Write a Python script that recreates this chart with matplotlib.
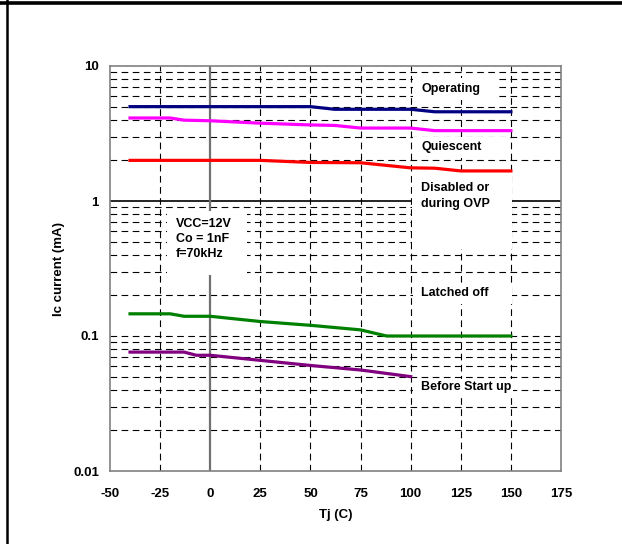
import matplotlib
matplotlib.use("Agg")
import matplotlib.pyplot as plt
from matplotlib.patches import Rectangle
from matplotlib.lines import Line2D
from matplotlib.ticker import FixedLocator, NullFormatter, LogLocator

plt.rcParams['font.family'] = ['Liberation Sans', 'DejaVu Sans']

# ---- data ----
op_t = [-40, 50, 62, 100, 112, 150]
op_i = [5.0, 5.0, 4.78, 4.78, 4.58, 4.58]

qu_t = [-40, -20, -13, 0, 25, 50, 62, 75, 100, 112, 150]
qu_i = [4.12, 4.12, 3.97, 3.93, 3.77, 3.66, 3.63, 3.47, 3.47, 3.32, 3.32]

di_t = [-40, 25, 50, 75, 100, 112, 125, 150]
di_i = [2.0, 2.0, 1.93, 1.92, 1.76, 1.75, 1.67, 1.67]

la_t = [-40, -20, -13, 0, 25, 50, 75, 88, 150]
la_i = [0.146, 0.146, 0.14, 0.14, 0.128, 0.12, 0.111, 0.1, 0.1]

bs_t = [-40, -13, -7, 0, 25, 50, 75, 100]
bs_i = [0.076, 0.076, 0.072, 0.072, 0.066, 0.0605, 0.056, 0.05]

x_ticks = [-50, -25, 0, 25, 50, 75, 100, 125, 150, 175]
y_ticks = [0.01, 0.1, 1, 10]
y_tick_labels = ['0.01', '0.1', '1', '10']

W, H = 622, 544
fig = plt.figure(figsize=(W / 100, H / 100), dpi=100)

# outer frame lines (top and left)
fig.add_artist(Line2D([0, 1], [1 - 2.5 / H, 1 - 2.5 / H], color='black', lw=2.6,
                      transform=fig.transFigure))
fig.add_artist(Line2D([7.5 / W, 7.5 / W], [0, 1], color='black', lw=1.8,
                      transform=fig.transFigure))

L, R, T, B = 110, 561, 66, 471
ax = fig.add_axes([L / W, 1 - B / H, (R - L) / W, (B - T) / H])
ax.set_yscale('log')
ax.set_xlim(-50, 175)
ax.set_ylim(0.01, 10)

for s in ax.spines.values():
    s.set_color('#808080')
    s.set_linewidth(1.2)

dash = (0, (6, 4))
# horizontal grid: all 2..9 in each decade, plus 0.1
for dec in [0.01, 0.1, 1]:
    for m in range(1, 10):
        v = dec * m
        if abs(v - 0.01) < 1e-12 or abs(v - 1) < 1e-9:
            continue
        ax.axhline(v, color='black', lw=0.8, ls=dash, zorder=1)
ax.axhline(1, color='black', lw=1.2, zorder=1.5)
# vertical grid
for xv in x_ticks[1:-1]:
    if xv == 0:
        continue
    ax.axvline(xv, color='black', lw=0.8, ls=dash, zorder=1)
ax.axvline(0, color='#707070', lw=1.6, zorder=1.5)

# white label boxes (in pixel coordinates of the figure)
def wbox(x0, x1, y0, y1):
    ax.add_patch(Rectangle(((x0 - L) / (R - L), (B - y1) / (B - T)),
                           (x1 - x0) / (R - L), (y1 - y0) / (B - T),
                           transform=ax.transAxes, facecolor='white',
                           edgecolor='none', zorder=2))

wbox(413, 495, 78, 100)
wbox(413, 510, 137, 158)
wbox(412, 512, 175, 249)
wbox(413, 512, 283, 304)
wbox(413, 513, 379, 398)
wbox(167, 247, 211, 275)

lw = 2.3
ax.plot(op_t, op_i, color='#000080', lw=lw, zorder=3)
ax.plot(qu_t, qu_i, color='#FF00FF', lw=lw, zorder=3)
ax.plot(di_t, di_i, color='#FF0000', lw=lw, zorder=3)
ax.plot(la_t, la_i, color='#008000', lw=lw, zorder=3)
ax.plot(bs_t, bs_i, color='#800080', lw=lw, zorder=3)

def ftext(x, y, s, **kw):
    fig.text(x / W, 1 - y / H, s, fontsize=9, fontweight='bold', va='center',
             ha='left', zorder=5, **kw)

ftext(421, 89, 'Operating')
ftext(421, 147, 'Quiescent')
ftext(421, 196, 'Disabled or\nduring OVP', linespacing=1.4)
ftext(421, 293, 'Latched off')
ftext(421, 387, 'Before Start up')
ftext(176, 239, 'VCC=12V\nCo = 1nF\nf=70kHz', linespacing=1.3)

ax.set_xticks(x_ticks)
ax.set_xticklabels([str(v) for v in x_ticks])
ax.yaxis.set_major_locator(FixedLocator(y_ticks))
ax.set_yticklabels(y_tick_labels)
ax.yaxis.set_minor_locator(LogLocator(subs=range(2, 10)))
ax.yaxis.set_minor_formatter(NullFormatter())
ax.tick_params(which='both', length=0)
ax.tick_params(axis='x', pad=12, labelsize=9.5)
ax.tick_params(axis='y', pad=8, labelsize=9.5)
for lab in ax.get_xticklabels() + ax.get_yticklabels():
    lab.set_fontweight('bold')

ax.set_xlabel('Tj (C)', fontsize=9.5, fontweight='bold', labelpad=7)
ax.set_ylabel('Ic current (mA)', fontsize=9.5, fontweight='bold', labelpad=6)

fig.savefig('out.png', dpi=100, facecolor='white')
